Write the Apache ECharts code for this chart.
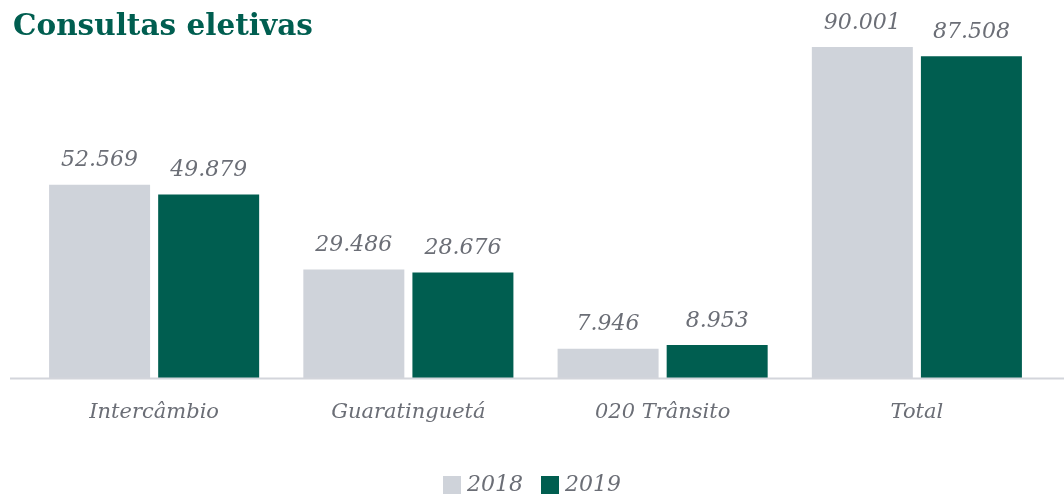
<!DOCTYPE html>
<html>
<head>
<meta charset="utf-8">
<script src="https://cdn.jsdelivr.net/npm/echarts@6/dist/echarts.min.js"></script>
<style>
  html, body { margin: 0; padding: 0; background: #fff; }
  #chart { width: 1064px; height: 497px; }
</style>
</head>
<body>
<div id="chart"></div>
<script>
// categorias e valores
var categories = ['Intercâmbio', 'Guaratinguetá', '020 Trânsito', 'Total'];
var seriesNames = ['2018', '2019'];
var values2018 = [52.569, 29.486, 7.946, 90.001];
var values2019 = [49.879, 28.676, 8.953, 87.508];

var gray = '#cfd3da';
var green = '#005e50';
var textGray = '#6b6e76';
var font = '"DejaVu Serif", serif';

function fmt(v) {
  return v.toFixed(3);
}

var chart = echarts.init(document.getElementById('chart'));

chart.setOption({
  animation: false,
  title: {
    text: 'Consultas eletivas',
    left: 8,
    top: 7,
    textStyle: { fontFamily: font, fontWeight: 'bold', fontSize: 29.5, color: green }
  },
  legend: {
    data: seriesNames,
    bottom: -4,
    left: 'center',
    itemWidth: 18,
    itemHeight: 18,
    itemGap: 18,
    icon: 'rect',
    textStyle: { fontFamily: font, fontStyle: 'italic', fontSize: 22, color: textGray, padding: [0, 0, 0, 1] }
  },
  grid: { left: 27, right: 20, top: 47, bottom: 119, containLabel: false },
  xAxis: {
    type: 'category',
    data: categories,
    axisLine: { show: false },
    axisTick: { show: false },
    axisLabel: {
      margin: 24,
      fontFamily: font,
      fontStyle: 'italic',
      fontSize: 21,
      color: textGray
    }
  },
  yAxis: {
    type: 'value',
    min: 0,
    max: 90,
    show: false,
    splitLine: { show: false }
  },
  graphic: [{
    type: 'line',
    shape: { x1: 10, y1: 378.5, x2: 1064, y2: 378.5 },
    style: { stroke: '#d3d5db', lineWidth: 2 },
    z: 10
  }],
  series: [
    {
      name: seriesNames[0],
      type: 'bar',
      data: values2018,
      barWidth: 101,
      barGap: '8%',
      itemStyle: { color: gray },
      label: {
        show: true,
        position: 'top',
        distance: 13,
        formatter: function (p) { return fmt(p.value); },
        fontFamily: font,
        fontStyle: 'italic',
        fontSize: 22,
        color: textGray
      }
    },
    {
      name: seriesNames[1],
      type: 'bar',
      data: values2019,
      barWidth: 101,
      barGap: '8%',
      itemStyle: { color: green },
      label: {
        show: true,
        position: 'top',
        distance: 13,
        formatter: function (p) { return fmt(p.value); },
        fontFamily: font,
        fontStyle: 'italic',
        fontSize: 22,
        color: textGray
      }
    }
  ]
});
</script>
</body>
</html>
